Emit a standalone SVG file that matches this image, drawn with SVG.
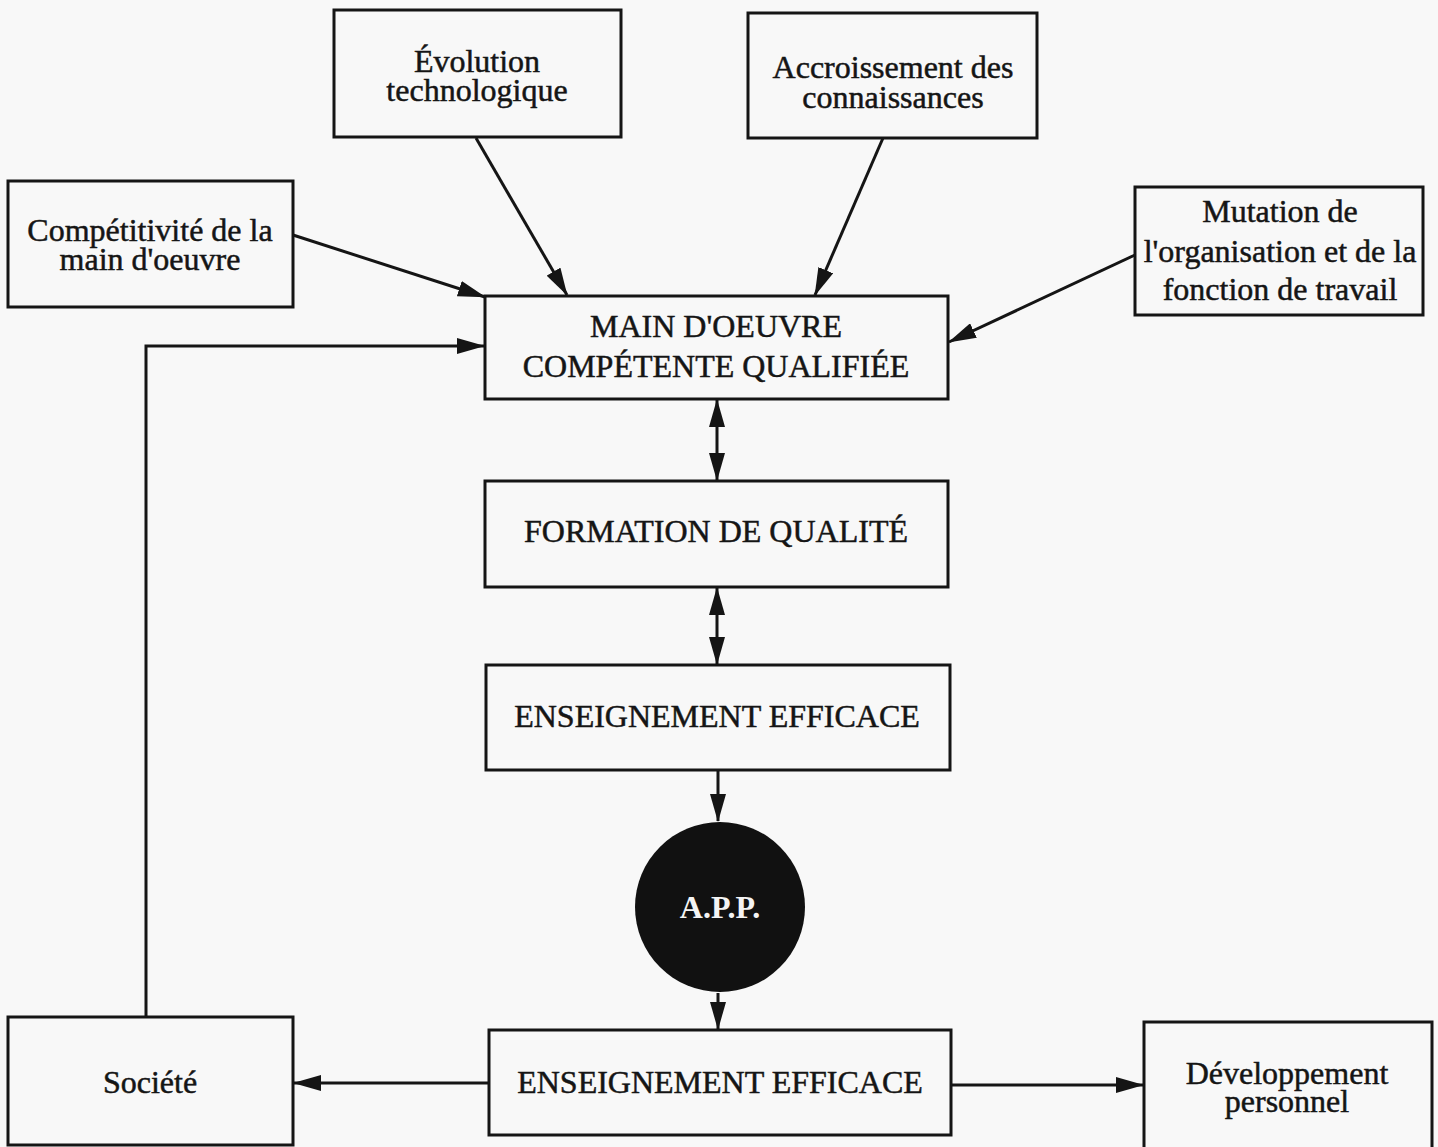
<svg xmlns="http://www.w3.org/2000/svg" width="1438" height="1147" viewBox="0 0 1438 1147">
<style>
.box{fill:none;stroke:#151515;stroke-width:3}
.t{font-family:"Liberation Serif","Times New Roman",serif;font-size:32px;fill:#151515;stroke:#151515;stroke-width:0.5;text-anchor:middle}
.c{fill:none;stroke:#151515;stroke-width:3}
</style>
<defs>
<marker id="ah" viewBox="0 0 28 16" refX="27" refY="8" markerWidth="28" markerHeight="16" markerUnits="userSpaceOnUse" orient="auto-start-reverse">
<path d="M0,0 L28,8 L0,16 z" fill="#151515"/>
</marker>
</defs>
<rect width="1438" height="1147" fill="#f8f8f8"/>
<g id="connectors">
<line class="c" x1="476" y1="138" x2="567" y2="295" marker-end="url(#ah)"/>
<line class="c" x1="883" y1="138" x2="815" y2="295" marker-end="url(#ah)"/>
<line class="c" x1="293" y1="235" x2="485" y2="297" marker-end="url(#ah)"/>
<line class="c" x1="1135" y1="255" x2="949" y2="342" marker-end="url(#ah)"/>
<polyline class="c" points="146,1017 146,346 484,346" marker-end="url(#ah)"/>
<line class="c" x1="717" y1="400" x2="717" y2="480" marker-start="url(#ah)" marker-end="url(#ah)"/>
<line class="c" x1="717" y1="588" x2="717" y2="664" marker-start="url(#ah)" marker-end="url(#ah)"/>
<line class="c" x1="718" y1="771" x2="718" y2="821" marker-end="url(#ah)"/>
<line class="c" x1="718" y1="993" x2="718" y2="1029" marker-end="url(#ah)"/>
<line class="c" x1="489" y1="1083" x2="294" y2="1083" marker-end="url(#ah)"/>
<line class="c" x1="951" y1="1085" x2="1143" y2="1085" marker-end="url(#ah)"/>
</g>
<g id="evolution">
<rect class="box" x="334" y="10" width="287" height="127"/>
<text class="t" x="477" y="72">Évolution</text>
<text class="t" x="477" y="101">technologique</text>
</g>
<g id="accroissement">
<rect class="box" x="748" y="13" width="289" height="125"/>
<text class="t" x="893" y="78">Accroissement des</text>
<text class="t" x="893" y="108">connaissances</text>
</g>
<g id="competitivite">
<rect class="box" x="8" y="181" width="285" height="126"/>
<text class="t" x="150" y="241">Compétitivité de la</text>
<text class="t" x="150" y="270">main d'oeuvre</text>
</g>
<g id="mutation">
<rect class="box" x="1135" y="187" width="288" height="128"/>
<text class="t" x="1280" y="222">Mutation de</text>
<text class="t" x="1280" y="262">l'organisation et de la</text>
<text class="t" x="1280" y="300">fonction de travail</text>
</g>
<g id="main-oeuvre">
<rect class="box" x="485" y="296" width="463" height="103"/>
<text class="t" x="716" y="337">MAIN D'OEUVRE</text>
<text class="t" x="716" y="377">COMPÉTENTE QUALIFIÉE</text>
</g>
<g id="formation">
<rect class="box" x="485" y="481" width="463" height="106"/>
<text class="t" x="716" y="542">FORMATION DE QUALITÉ</text>
</g>
<g id="enseignement1">
<rect class="box" x="486" y="665" width="464" height="105"/>
<text class="t" x="717" y="727">ENSEIGNEMENT EFFICACE</text>
</g>
<g id="app">
<circle cx="720" cy="907" r="85" fill="#111"/>
<text x="720" y="918" style="font-family:'Liberation Serif','Times New Roman',serif;font-size:32px;font-weight:bold;fill:#f4f4f4;text-anchor:middle">A.P.P.</text>
</g>
<g id="enseignement2">
<rect class="box" x="489" y="1030" width="462" height="105"/>
<text class="t" x="720" y="1093">ENSEIGNEMENT EFFICACE</text>
</g>
<g id="societe">
<rect class="box" x="8" y="1017" width="285" height="128"/>
<text class="t" x="150" y="1093">Société</text>
</g>
<g id="developpement">
<rect class="box" x="1144" y="1022" width="288" height="130"/>
<text class="t" x="1287" y="1084">Développement</text>
<text class="t" x="1287" y="1112">personnel</text>
</g>
</svg>
